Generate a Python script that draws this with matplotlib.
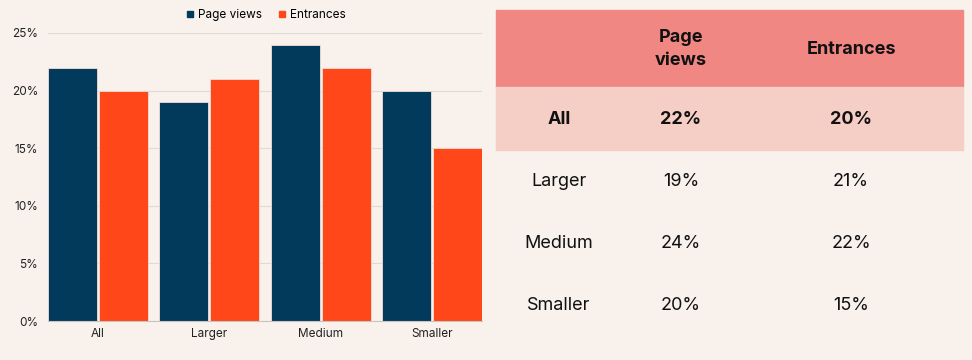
import matplotlib.pyplot as plt
import numpy as np
from matplotlib.lines import Line2D

# data
categories = ["All", "Larger", "Medium", "Smaller"]
page_views = [22, 19, 24, 20]
entrances = [20, 21, 22, 15]
series_names = ["Page views", "Entrances"]
yticks = [0, 5, 10, 15, 20, 25]

bg = "#f8f1ec"
navy = "#023a5c"
orange = "#ff4719"
head_col = "#f08782"
all_col = "#f5cec5"

plt.rcParams["font.family"] = ["Inter", "DejaVu Sans"]

W, H = 972, 360
fig = plt.figure(figsize=(9.72, 3.6), dpi=100, facecolor=bg)

# bar chart
ax = fig.add_axes([48 / W, (H - 321) / H, 434 / W, 288 / H])
ax.set_facecolor(bg)
x = np.arange(len(categories))
bw = 0.44
ax.bar(x - 0.01 - bw / 2, page_views, bw, color=navy, edgecolor="#f3ddd6", linewidth=0.6,
       label=series_names[0], zorder=3)
ax.bar(x + 0.01 + bw / 2, entrances, bw, color=orange, edgecolor="#f3ddd6", linewidth=0.6,
       label=series_names[1], zorder=3)
ax.set_xlim(-0.45, len(categories) - 1 + 0.45)
ax.set_ylim(0, 25)
ax.set_yticks(yticks)
ax.set_yticklabels([f"{v}%" for v in yticks], fontsize=8.5, color="#222222")
ax.set_xticks(x)
ax.set_xticklabels(categories, fontsize=8.5, color="#222222")
ax.tick_params(length=0)
ax.tick_params(axis="y", pad=7)
ax.tick_params(axis="x", pad=5)
ax.grid(axis="y", color="#dedad6", linewidth=0.8, zorder=0)
for s in ["top", "right", "left"]:
    ax.spines[s].set_visible(False)
ax.spines["bottom"].set_color("#c8c4c0")
ax.spines["bottom"].set_zorder(4)

handles = [Line2D([], [], marker="s", color=c, linestyle="", markersize=5)
           for c in (navy, orange)]
ax.legend(handles, series_names, loc="lower center", bbox_to_anchor=(0.5, 1.005), ncol=2,
          frameon=False, fontsize=8.5, handletextpad=0.2, columnspacing=1.2, handlelength=1.0)

# table on the right
tx = fig.add_axes([0, 0, 1, 1])
tx.set_xlim(0, W)
tx.set_ylim(H, 0)
tx.axis("off")
tx.patch.set_alpha(0)
tx.add_patch(plt.Rectangle((496, 10), 467, 77, color=head_col, zorder=1))
tx.add_patch(plt.Rectangle((496, 87), 467, 63, color=all_col, zorder=1))

col_x = [559, 681, 851]
fs = 13
tx.text(col_x[1], 49, "Page\nviews", ha="center", va="center", fontsize=fs,
        fontweight="bold", linespacing=1.4, color="#111111")
tx.text(col_x[2], 49, series_names[1], ha="center", va="center", fontsize=fs,
        fontweight="bold", color="#111111")

row_y = [119, 182, 244, 306]
for i, cat in enumerate(categories):
    w = "bold" if i == 0 else "normal"
    tx.text(col_x[0], row_y[i], cat, ha="center", va="center", fontsize=fs, fontweight=w,
            color="#111111")
    tx.text(col_x[1], row_y[i], f"{page_views[i]}%", ha="center", va="center", fontsize=fs,
            fontweight=w, color="#111111")
    tx.text(col_x[2], row_y[i], f"{entrances[i]}%", ha="center", va="center", fontsize=fs,
            fontweight=w, color="#111111")

fig.savefig("out.png", dpi=100, facecolor=bg)
